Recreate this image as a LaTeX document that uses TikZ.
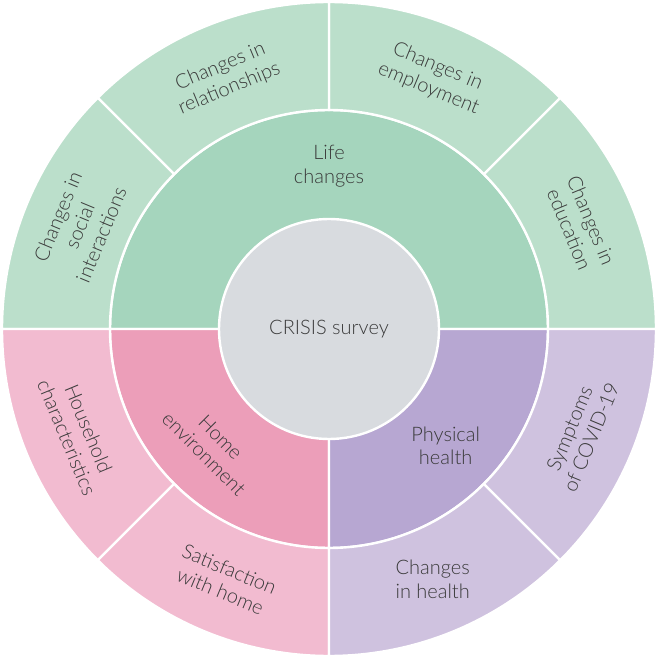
\documentclass[tikz,border=0pt]{standalone}
\usepackage{fontspec}
\setmainfont{Lato}[UprightFont=* Light]
\definecolor{lifeout}{HTML}{BBDFCB}
\definecolor{lifein}{HTML}{A5D5BD}
\definecolor{homeout}{HTML}{F2BBD0}
\definecolor{homein}{HTML}{EC9EB9}
\definecolor{physout}{HTML}{CFC2DF}
\definecolor{physin}{HTML}{B7A7D2}
\definecolor{hubfill}{HTML}{D8DBDF}
\definecolor{txt}{HTML}{3A3A3A}

\begin{document}
\begin{tikzpicture}[x=1pt, y=1pt,
    seg/.style={draw=white, line width=2.4pt},
    lbl/.style={align=center, text=txt, inner sep=0pt, font=\fontsize{20}{23.5}\selectfont}]
    \useasboundingbox (-329,-329) rectangle (329,329);
    % middle ring
    \path[seg, fill=lifein] (0:109) arc (0:180:109) -- (180:219) arc (180:0:219) -- cycle;
    \path[seg, fill=homein] (180:109) arc (180:270:109) -- (270:219) arc (270:180:219) -- cycle;
    \path[seg, fill=physin] (270:109) arc (270:360:109) -- (360:219) arc (360:270:219) -- cycle;
    % outer ring
    \foreach \a/\c [evaluate=\a as \b using \a+45] in {0/lifeout,45/lifeout,90/lifeout,135/lifeout,180/homeout,225/homeout,270/physout,315/physout}
      \path[seg, fill=\c] (\a:219) arc (\a:\b:219) -- (\b:327) arc (\b:\a:327) -- cycle;
    \node[seg, lbl, circle, fill=hubfill, minimum size=220pt] (hub) at (0,0) {CRISIS survey};
    \node[lbl] (life) at (90:163) {Life\\changes};
    \node[lbl, rotate=-45] (home) at (225:165) {Home\\environment};
    \node[lbl] (phys) at (315:165) {Physical\\health};
    \node[lbl, rotate=67.5] (social) at (157.5:270) {Changes in\\social\\interactions};
    \node[lbl, rotate=22.5] (relat) at (112.5:272) {Changes in\\relationships};
    \node[lbl, rotate=-22.5] (employ) at (67.5:272) {Changes in\\employment};
    \node[lbl, rotate=-67.5] (educ) at (22.5:272) {Changes in\\education};
    \node[lbl, rotate=-67.5] (house) at (202.5:272) {Household\\characteristics};
    \node[lbl, rotate=-22.5] (satis) at (247.5:272) {Satisfaction\\with home};
    \node[lbl] (health) at (292.5:271) {Changes\\in health};
    \node[lbl, rotate=67.5] (covid) at (337.5:272) {Symptoms\\of COVID-19};
\end{tikzpicture}
\end{document}
